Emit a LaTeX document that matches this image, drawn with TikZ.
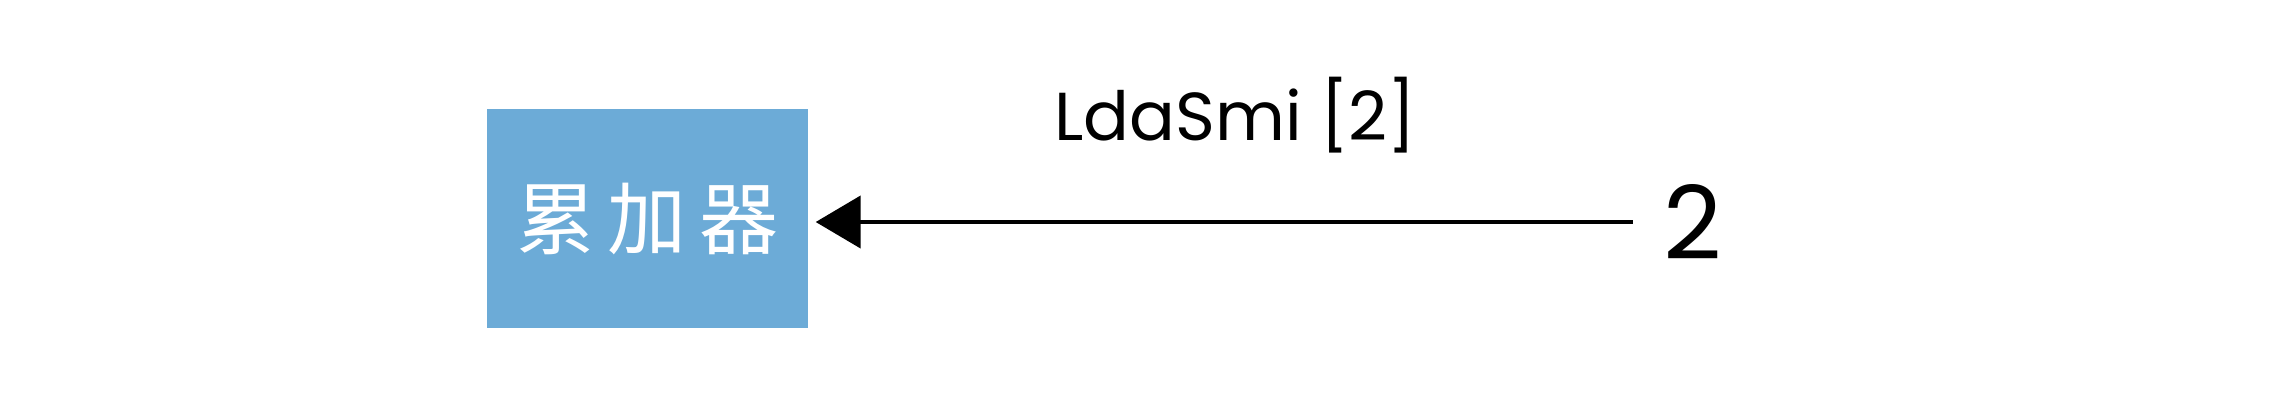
\documentclass[tikz,border=0pt]{standalone}
\usepackage{fontspec}
\setmainfont{Poppins}
\newfontfamily\cjk{Noto Sans CJK SC}
\usetikzlibrary{arrows.meta,positioning}
\definecolor{accblue}{HTML}{6CABD7}

\begin{document}
\begin{tikzpicture}[x=1cm,y=1cm,
  accbox/.style={fill=accblue,text=white,minimum width=3.21cm,minimum height=2.19cm,inner sep=0pt,font=\cjk\fontsize{22.5}{22.5}\selectfont},
  feed/.style={line width=1.3pt,-{Triangle[length=4.5mm,width=5.2mm]}}]
\useasboundingbox (0,0) rectangle (22.84,-4.01);
\node[accbox] (acc) at (6.475,-2.185) {\raisebox{-1.5mm}{累\kern1.2mm加\kern1.2mm器}};
\node[inner sep=0pt,font=\fontsize{29}{29}\selectfont] (two) at (16.925,-2.22) {2};
\draw[feed,shorten <=3mm,shorten >=0.7mm] (two.west) -- (acc.east |- two.west)
  node[midway,anchor=base,yshift=8.2mm,font=\fontsize{19.3}{19.3}\selectfont] (lbl) {LdaSmi [2]};
\end{tikzpicture}
\end{document}
